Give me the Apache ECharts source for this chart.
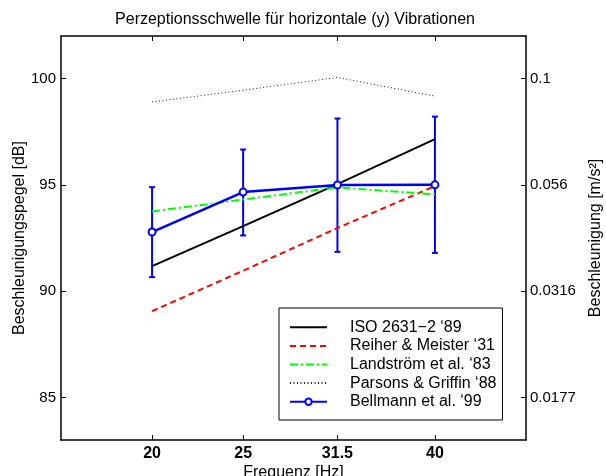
<!DOCTYPE html>
<html>
<head>
<meta charset="utf-8">
<script src="https://cdn.jsdelivr.net/npm/echarts@6/dist/echarts.min.js"></script>
<style>html,body{margin:0;padding:0;background:#fff;}#c{width:606px;height:476px;}</style>
</head>
<body>
<div id="c"></div>
<script>
const freqs = [20, 25, 31.5, 40];
const freqLabels = ['20', '25', '31.5', '40'];
const isoVals = [91.18, 93.06, 95.03, 97.15];
const reiherVals = [89.06, 90.96, 92.97, 94.94];
const landVals = [93.75, 94.31, 94.88, 94.55];
const parsonsVals = [98.9, 99.45, 100.05, 99.17];
const bellVals = [92.78, 94.66, 94.99, 95.0];
const bellLow = [90.66, 92.62, 91.85, 91.8];
const bellHigh = [94.89, 96.66, 98.12, 98.21];
const dbTicks = [85, 90, 95, 100];
const accelLabels = ['0.0177', '0.0316', '0.056', '0.1'];
const seriesNames = ['ISO 2631\u22122 \u201889', 'Reiher & Meister \u201831', 'Landstr\u00f6m et al. \u201883', 'Parsons & Griffin \u201888', 'Bellmann et al. \u201899'];

const FONT = 'Liberation Sans, Arial, Helvetica, sans-serif';
const lx = freqs.map(f => Math.log10(f));
const pts = vals => vals.map((v, i) => [lx[i], v]);

const chart = echarts.init(document.getElementById('c'), null, {renderer: 'canvas'});
const axisLineStyle = {color: '#000', width: 1.5};

const option = {
  backgroundColor: '#fff',
  animation: false,
  textStyle: {fontFamily: FONT},
  title: {
    text: 'Perzeptionsschwelle f\u00fcr horizontale (y) Vibrationen',
    left: 295, top: 12, padding: 0, textAlign: 'center',
    textStyle: {fontFamily: FONT, fontSize: 16, fontWeight: 'normal', color: '#000'}
  },
  grid: {left: 61, right: 80, top: 36, bottom: 36, containLabel: false, outerBoundsMode: 'none'},
  legend: {
    orient: 'vertical', left: 279, top: 308,
    padding: [10, 6, 9, 10],
    borderColor: '#000', borderWidth: 1, backgroundColor: '#fff',
    itemWidth: 37, itemHeight: 8, itemGap: 0,
    data: seriesNames.map((n, i) => i < 4 ? {name: n, itemStyle: {opacity: 0, color: 'rgba(0,0,0,0)', borderWidth: 0}} : {name: n}),
    textStyle: {fontFamily: FONT, fontSize: 16, color: '#000', lineHeight: 18.6, padding: [0, 0, 0, 18]}
  },
  xAxis: [{
    type: 'value', position: 'bottom',
    min: Math.log10(16), max: Math.log10(50),
    axisLine: {show: true, onZero: false, lineStyle: axisLineStyle},
    axisTick: {show: true, inside: true, length: 5, customValues: lx, lineStyle: {color: '#000', width: 1}},
    axisLabel: {customValues: lx, margin: 6, color: '#000', fontFamily: FONT, fontSize: 16, fontWeight: 'bold',
      formatter: v => freqLabels[lx.findIndex(l => Math.abs(l - v) < 1e-6)]},
    splitLine: {show: false},
    name: 'Frequenz [Hz]', nameLocation: 'middle', nameGap: 25, nameMoveOverlap: false,
    nameTextStyle: {fontFamily: FONT, fontSize: 16, color: '#000'}
  }, {
    type: 'value', position: 'top',
    min: Math.log10(16), max: Math.log10(50),
    axisLine: {show: true, onZero: false, lineStyle: axisLineStyle},
    axisTick: {show: true, inside: true, length: 5, customValues: lx, lineStyle: {color: '#000', width: 1}},
    axisLabel: {show: false},
    splitLine: {show: false}
  }],
  yAxis: [{
    type: 'value', position: 'left', min: 83, max: 102,
    axisLine: {show: true, onZero: false, lineStyle: axisLineStyle},
    axisTick: {show: true, inside: true, length: 5, customValues: dbTicks, lineStyle: {color: '#000', width: 1}},
    axisLabel: {customValues: dbTicks, margin: 5, color: '#000', fontFamily: FONT, fontSize: 15},
    splitLine: {show: false},
    name: 'Beschleunigungspegel [dB]', nameLocation: 'middle', nameGap: 33, nameRotate: 90, nameMoveOverlap: false,
    nameTextStyle: {fontFamily: FONT, fontSize: 16, color: '#000'}
  }, {
    type: 'value', position: 'right', min: 83, max: 102,
    axisLine: {show: true, onZero: false, lineStyle: axisLineStyle},
    axisTick: {show: true, inside: true, length: 5, customValues: dbTicks, lineStyle: {color: '#000', width: 1}},
    axisLabel: {customValues: dbTicks, margin: 4, color: '#000', fontFamily: FONT, fontSize: 15,
      formatter: v => accelLabels[dbTicks.indexOf(v)]},
    splitLine: {show: false},
    name: 'Beschleunigung [m/s\u00b2]', nameLocation: 'middle', nameGap: 62, nameRotate: 90, nameMoveOverlap: false,
    nameTextStyle: {fontFamily: FONT, fontSize: 16, color: '#000'}
  }],
  series: [
    {name: seriesNames[0], type: 'line', data: pts(isoVals), symbol: 'none',
      lineStyle: {color: '#000', width: 2}, itemStyle: {color: '#000'}},
    {name: seriesNames[1], type: 'line', data: pts(reiherVals), symbol: 'none',
      lineStyle: {color: '#ff0000', width: 2, type: [6, 4]}, itemStyle: {color: '#ff0000'}},
    {name: seriesNames[2], type: 'line', data: pts(landVals), symbol: 'none',
      lineStyle: {color: '#00ff00', width: 2, type: [8, 3, 2, 3]}, itemStyle: {color: '#00ff00'}},
    {name: seriesNames[3], type: 'line', data: pts(parsonsVals), symbol: 'none',
      lineStyle: {color: '#222', width: 1, type: [1, 2.5]}, itemStyle: {color: '#222'}},
    {name: 'Fehlerbalken', type: 'custom', z: 3,
      data: freqs.map((f, i) => [lx[i], bellLow[i], bellHigh[i]]),
      encode: {x: 0, y: [1, 2]},
      renderItem: (params, api) => {
        const x = api.value(0);
        const lo = api.coord([x, api.value(1)]);
        const hi = api.coord([x, api.value(2)]);
        const hw = 3;
        const st = {stroke: '#0000ff', lineWidth: 2};
        return {type: 'group', children: [
          {type: 'line', shape: {x1: lo[0], y1: lo[1], x2: hi[0], y2: hi[1]}, style: st},
          {type: 'line', shape: {x1: lo[0] - hw, y1: lo[1], x2: lo[0] + hw, y2: lo[1]}, style: st},
          {type: 'line', shape: {x1: hi[0] - hw, y1: hi[1], x2: hi[0] + hw, y2: hi[1]}, style: st}
        ]};
      }},
    {name: seriesNames[4], type: 'line', data: pts(bellVals), z: 4,
      symbol: 'emptyCircle', symbolSize: 7,
      lineStyle: {color: '#0000ff', width: 2.5},
      itemStyle: {color: '#0000ff', borderColor: '#0000ff', borderWidth: 2.5}}
  ]
};
chart.setOption(option);
</script>
</body>
</html>
